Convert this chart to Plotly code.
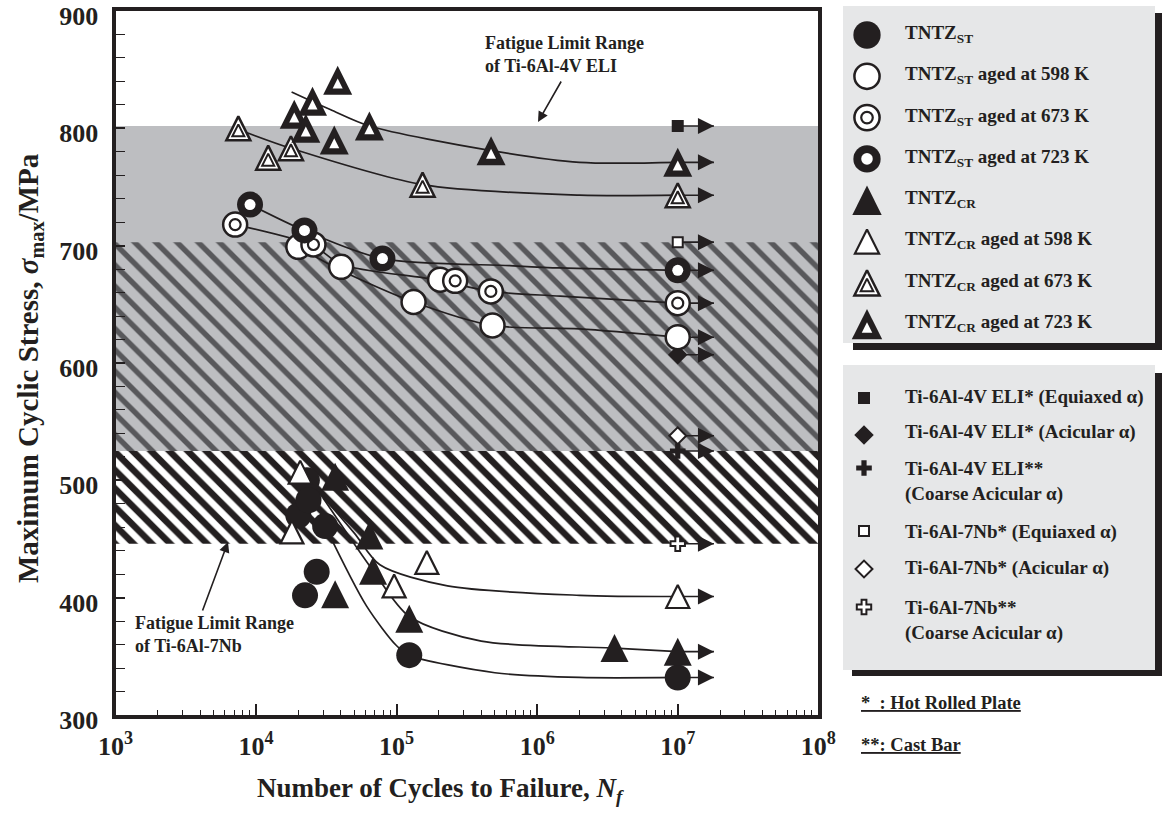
import plotly.graph_objects as go

W, H = 1162, 816
FONT = "Liberation Serif, 'Times New Roman', Times, serif"
INK = "#231f20"
BAND_GRAY = "#bdbec1"
HATCH_DARK = "#58585b"
BOX_FILL = "#e6e7e8"

# plot frame in pixels (10^3 .. 10^8, 900 .. 300 MPa)
PX_L, PX_R = 115.5, 818.3
PX_T, PX_B = 11.0, 715.0

# ---------------- tick labels ----------------
x_tick_vals = [1e3, 1e4, 1e5, 1e6, 1e7, 1e8]
x_tick_text = ["10<sup>3</sup>", "10<sup>4</sup>", "10<sup>5</sup>",
               "10<sup>6</sup>", "10<sup>7</sup>", "10<sup>8</sup>"]
y_tick_vals = [300, 400, 500, 600, 700, 800, 900]
y_tick_text = ["300", "400", "500", "600", "700", "800", "900"]

# ---------------- data: cycles to failure / max cyclic stress (MPa) ----------------
st_n = [2.0e4, 2.3e4, 2.36e4, 3.1e4, 2.7e4, 2.23e4, 1.23e5, 1.0e7]
st_s = [470, 500, 483, 461, 422, 402, 351, 332]
st598_n = [2.0e4, 4.03e4, 2.04e5, 1.32e5, 4.81e5, 1.0e7]
st598_s = [699, 682, 671, 652, 632, 622]
st673_n = [7.1e3, 2.56e4, 2.61e5, 4.68e5, 1.0e7]
st673_s = [718, 701, 670, 661, 651]
st723_n = [9.06e3, 2.21e4, 7.93e4, 1.0e7]
st723_s = [735, 713, 689, 679]
cr_n = [3.65e4, 3.65e4, 6.4e4, 6.8e4, 1.23e5, 3.55e6, 1.0e7]
cr_s = [503, 403, 453, 423, 382, 357, 354]
cr598_n = [2.06e4, 1.8e4, 1.64e5, 9.6e4, 1.0e7]
cr598_s = [507, 456, 430, 410, 401]
cr673_n = [7.48e3, 1.22e4, 1.77e4, 1.53e5, 1.0e7]
cr673_s = [800, 775, 783, 752, 743]
cr723_n = [1.87e4, 2.26e4, 2.52e4, 3.6e4, 3.81e4, 6.4e4, 4.7e5, 1.0e7]
cr723_s = [812, 800, 823, 790, 841, 802, 781, 771]

# reference alloys (fatigue limits at 10^7 cycles)
ref_n = 1.0e7
ti64_s = [802, 607, 525]   # equiaxed, acicular, coarse acicular
ti67_s = [703, 538, 446]   # equiaxed, acicular, coarse acicular

# hand-drawn trend curves
st_fit_n = [3.1e4, 6.1e4, 1.0e5, 1.23e5, 5.0e5, 2.0e6, 1.0e7]
st_fit_s = [461, 393, 359, 351, 336, 332, 332]
st598_fit_n = [2.0e4, 4.0e4, 1.32e5, 4.8e5, 2.0e6, 1.0e7]
st598_fit_s = [699, 679, 652, 632, 629, 622]
st673_fit_n = [7.1e3, 2.56e4, 4.03e4, 1.9e5, 4.68e5, 1.46e6, 1.0e7]
st673_fit_s = [718, 700, 684, 671, 661, 657, 651]
st723_fit_n = [9.1e3, 2.2e4, 7.9e4, 6.4e5, 1.46e6, 1.0e7]
st723_fit_s = [735, 713, 689, 683, 681, 679]
cr_fit_n = [3.0e4, 6.8e4, 1.23e5, 4.0e5, 3.55e6, 1.0e7]
cr_fit_s = [485, 423, 384, 363, 357, 354]
cr598_fit_n = [2.8e4, 5.0e4, 7.6e4, 2.3e5, 2.0e6, 1.0e7]
cr598_fit_s = [490, 455, 428, 410, 402, 401]
cr673_fit_n = [7.5e3, 1.77e4, 1.53e5, 2.0e6, 1.0e7]
cr673_fit_s = [799, 783, 752, 743, 743]
cr723_fit_n = [1.79e4, 3.37e4, 6.4e4, 4.7e5, 2.0e6, 1.0e7]
cr723_fit_s = [831, 816, 802, 781, 771, 771]

# legend labels
tntz_labels = ["TNTZ<sub>ST</sub>", "TNTZ<sub>ST</sub> aged at 598 K",
               "TNTZ<sub>ST</sub> aged at 673 K", "TNTZ<sub>ST</sub> aged at 723 K",
               "TNTZ<sub>CR</sub>", "TNTZ<sub>CR</sub> aged at 598 K",
               "TNTZ<sub>CR</sub> aged at 673 K", "TNTZ<sub>CR</sub> aged at 723 K"]
ref_labels = ["Ti-6Al-4V ELI* (Equiaxed α)", "Ti-6Al-4V ELI* (Acicular α)",
              "Ti-6Al-4V ELI**<br>(Coarse Acicular α)", "Ti-6Al-7Nb* (Equiaxed α)",
              "Ti-6Al-7Nb* (Acicular α)", "Ti-6Al-7Nb**<br>(Coarse Acicular α)"]
note_labels = ["*  : Hot Rolled Plate", "**: Cast Bar"]

# ---------------- marker styles (layers: symbol, size, fill, outline width) ----------------
STYLES = {
    "st":    [("circle", 26, INK, 0)],
    "st598": [("circle", 24, "white", 2.5)],
    "st673": [("circle", 24, "white", 2.5), ("circle", 11, "white", 2.2)],
    "st723": [("circle", 26, INK, 0), ("circle", 11, "white", 0)],
    "cr":    [("tri", 28, INK, 0)],
    "cr598": [("tri", 23, "white", 2.2)],
    "cr673": [("tri", 24, "white", 2.5), ("tri", 12, "white", 2.0)],
    "cr723": [("tri", 29, INK, 0), ("tri", 10, "white", 0)],
    "ti64_eq": [("square", 12, INK, 0)],
    "ti64_ac": [("diamond", 15, INK, 0)],
    "ti64_co": [("cross", 13, INK, 0)],
    "ti67_eq": [("square", 10, "white", 2)],
    "ti67_ac": [("diamond", 13, "white", 2)],
    "ti67_co": [("cross", 12, "white", 2)],
}


def marker_layers(key, scale=1.0):
    layers = STYLES[key]
    R = layers[0][1] * scale / 2
    out = []
    for i, (sym, size, fill, lw) in enumerate(layers):
        size = size * scale
        m = dict(size=size, color=fill, line=dict(color=INK, width=lw))
        if sym == "tri":
            r = size / 2
            m["symbol"] = "arrow-down"
            m["angle"] = 180
            m["standoff"] = r if i == 0 else max(0.0, 4 * r / 3 - R / 3)
        else:
            m["symbol"] = sym
        out.append(m)
    return out


fig = go.Figure()


def band(lo, hi, **kw):
    fig.add_trace(go.Scatter(
        x=[1e3, 1e8, 1e8, 1e3, 1e3], y=[lo, lo, hi, hi, lo],
        mode="lines", fill="toself", line=dict(width=0), hoverinfo="skip",
        showlegend=False, **kw))


# ---------------- fatigue limit ranges ----------------
lo64, hi64 = min(ti64_s), max(ti64_s)
lo67, hi67 = min(ti67_s), max(ti67_s)
band(lo64, hi64, fillcolor=BAND_GRAY)
band(max(lo64, lo67), min(hi64, hi67), fillcolor=BAND_GRAY,
     fillpattern=dict(shape="\\", bgcolor=BAND_GRAY, fgcolor=HATCH_DARK, fgopacity=1,
                      size=15, solidity=0.36))
band(lo67, lo64, fillcolor="white",
     fillpattern=dict(shape="\\", bgcolor="white", fgcolor=INK, fgopacity=1,
                      size=13, solidity=0.5))

# ---------------- trend curves ----------------
for fn, fs in [(st_fit_n, st_fit_s), (st598_fit_n, st598_fit_s), (st673_fit_n, st673_fit_s),
               (st723_fit_n, st723_fit_s), (cr_fit_n, cr_fit_s), (cr598_fit_n, cr598_fit_s),
               (cr673_fit_n, cr673_fit_s), (cr723_fit_n, cr723_fit_s)]:
    fig.add_trace(go.Scatter(x=fn, y=fs, mode="lines", hoverinfo="skip", showlegend=False,
                             line=dict(color=INK, width=1.7, shape="spline", smoothing=0.8)))

# ---------------- run-out arrows ----------------
series = [("st", st_n, st_s), ("st598", st598_n, st598_s), ("st673", st673_n, st673_s),
          ("st723", st723_n, st723_s), ("cr", cr_n, cr_s), ("cr598", cr598_n, cr598_s),
          ("cr673", cr673_n, cr673_s), ("cr723", cr723_n, cr723_s)]
ref_keys64 = ["ti64_eq", "ti64_ac", "ti64_co"]
ref_keys67 = ["ti67_eq", "ti67_ac", "ti67_co"]

run_n, run_s = [], []
for _, ns, ss in series:
    for n, s in zip(ns, ss):
        if n >= 1e7:
            run_n.append(n)
            run_s.append(s)
for s in ti64_s + ti67_s:
    run_n.append(ref_n)
    run_s.append(s)

ARROW_F = 1.81
lx, ly = [], []
for n, s in zip(run_n, run_s):
    lx += [n, n * ARROW_F, None]
    ly += [s, s, None]
fig.add_trace(go.Scatter(x=lx, y=ly, mode="lines", line=dict(color=INK, width=1.6),
                         hoverinfo="skip", showlegend=False))
fig.add_trace(go.Scatter(x=[n * ARROW_F for n in run_n], y=run_s, mode="markers",
                         marker=dict(symbol="arrow-right", size=16, color=INK, line=dict(width=0)),
                         hoverinfo="skip", showlegend=False, cliponaxis=False))

# ---------------- data markers ----------------
def draw(key, xs, ys, xa="x", ya="y", scale=1.0):
    for m in marker_layers(key, scale):
        fig.add_trace(go.Scatter(x=xs, y=ys, mode="markers", marker=m, xaxis=xa, yaxis=ya,
                                 hoverinfo="skip", showlegend=False, cliponaxis=False))


for k, s in zip(ref_keys64, ti64_s):
    draw(k, [ref_n], [s])
for k, s in zip(ref_keys67, ti67_s):
    draw(k, [ref_n], [s])
for key, ns, ss in series:
    draw(key, ns, ss)

# ---------------- legend (pixel overlay axes) ----------------
def pxx(x):
    return x / W


def pxy(y):
    return 1 - y / H


shapes = []
for (sx0, sy0, sx1, sy1), (bx0, by0, bx1, by1) in [((853, 13, 1162, 350), (843, 6, 1155, 343)),
                                                      ((852, 373, 1162, 676), (843, 365, 1155, 670))]:
    shapes.append(dict(type="rect", xref="paper", yref="paper", x0=pxx(sx0), x1=pxx(sx1),
                       y0=pxy(sy1), y1=pxy(sy0), fillcolor=INK, line=dict(width=0), layer="below"))
    shapes.append(dict(type="rect", xref="paper", yref="paper", x0=pxx(bx0), x1=pxx(bx1),
                       y0=pxy(by1), y1=pxy(by0), fillcolor=BOX_FILL, line=dict(width=0), layer="below"))

annotations = []
LEG_MX, LEG_TX = 867, 903
keys1 = ["st", "st598", "st673", "st723", "cr", "cr598", "cr673", "cr723"]
for i, (k, lab) in enumerate(zip(keys1, tntz_labels)):
    y = 35 + 41.3 * i
    draw(k, [LEG_MX], [y], xa="x2", ya="y2", scale=1.05)
    annotations.append(dict(x=pxx(LEG_TX), y=pxy(y - 1), xref="paper", yref="paper",
                            text="<b>" + lab + "</b>", showarrow=False, xanchor="left",
                            yanchor="middle", align="left", font=dict(size=19)))

keys2 = ref_keys64 + ref_keys67
mark_y2 = [398, 435, 468, 531, 569, 607]
text_y2 = [397, 432, 481, 532, 568, 620]
for k, lab, my, ty in zip(keys2, ref_labels, mark_y2, text_y2):
    draw(k, [LEG_MX - 3], [my], xa="x2", ya="y2")
    annotations.append(dict(x=pxx(LEG_TX), y=pxy(ty), xref="paper", yref="paper",
                            text="<b>" + lab + "</b>", showarrow=False, xanchor="left",
                            yanchor="middle", align="left", font=dict(size=19)))

for lab, y in zip(note_labels, [703, 745]):
    annotations.append(dict(x=pxx(859), y=pxy(y), xref="paper", yref="paper",
                            text="<b><span style='text-decoration:underline'>" + lab + "</span></b>",
                            showarrow=False, xanchor="left", yanchor="middle", font=dict(size=18.5)))

# fatigue limit range notes with arrows
annotations.append(dict(x=pxx(483), y=pxy(55), xref="paper", yref="paper",
                        text="<b>Fatigue Limit Range<br>of Ti-6Al-4V ELI</b>", showarrow=False,
                        xanchor="left", yanchor="middle", align="left", font=dict(size=18)))
annotations.append(dict(x=pxx(538), y=pxy(122), xref="paper", yref="paper", text="",
                        showarrow=True, ax=24, ay=-42, arrowhead=2, arrowsize=1.3,
                        arrowwidth=1.6, arrowcolor=INK))
annotations.append(dict(x=pxx(133), y=pxy(634), xref="paper", yref="paper",
                        text="<b>Fatigue Limit Range<br>of Ti-6Al-7Nb</b>", showarrow=False,
                        xanchor="left", yanchor="middle", align="left", font=dict(size=18)))
annotations.append(dict(x=pxx(228), y=pxy(542), xref="paper", yref="paper", text="",
                        showarrow=True, ax=-26, ay=70, arrowhead=2, arrowsize=1.3,
                        arrowwidth=1.6, arrowcolor=INK))

# axis titles
annotations.append(dict(x=pxx(440), y=pxy(790), xref="paper", yref="paper",
                        text="<b>Number of Cycles to Failure, <i>N<sub>f</sub></i></b>",
                        showarrow=False, xanchor="center", yanchor="middle", font=dict(size=27)))
annotations.append(dict(x=pxx(30), y=pxy(368), xref="paper", yref="paper", textangle=-90,
                        text="<b>Maximum Cyclic Stress, <i>σ</i><sub>max</sub>/MPa</b>",
                        showarrow=False, xanchor="center", yanchor="middle", font=dict(size=29)))

fig.update_layout(
    width=W, height=H,
    margin=dict(l=0, r=0, t=0, b=0, autoexpand=False),
    paper_bgcolor="white", plot_bgcolor="rgba(0,0,0,0)",
    font=dict(family=FONT, color=INK),
    showlegend=False, hovermode=False,
    shapes=shapes, annotations=annotations,
    xaxis=dict(type="log", range=[3, 8], domain=[PX_L / W, PX_R / W], anchor="y",
               tickmode="array", tickvals=x_tick_vals, ticktext=x_tick_text,
               ticks="inside", ticklen=11, tickwidth=1.6, tickcolor=INK,
               minor=dict(ticks="inside", dtick="D1", ticklen=5, tickwidth=1.4, tickcolor=INK),
               tickfont=dict(size=26, family=FONT, color=INK, weight="bold"),
               ticklabelstandoff=5, ticklabeloverflow="allow",
               showline=True, linewidth=4, linecolor=INK, mirror=True,
               showgrid=False, zeroline=False),
    yaxis=dict(range=[300, 900], domain=[1 - PX_B / H, 1 - PX_T / H], anchor="x",
               tickmode="array", tickvals=y_tick_vals, ticktext=y_tick_text,
               ticks="inside", ticklen=9, tickwidth=1.6, tickcolor=INK,
               minor=dict(ticks="inside", dtick=20, tick0=300, ticklen=9, tickwidth=1.4, tickcolor=INK),
               tickfont=dict(size=26, family=FONT, color=INK, weight="bold"),
               ticklabelstandoff=8, ticklabelshift=5, ticklabeloverflow="allow",
               showline=True, linewidth=4, linecolor=INK, mirror=True,
               showgrid=False, zeroline=False),
    xaxis2=dict(domain=[0, 1], range=[0, W], visible=False, anchor="y2", fixedrange=True),
    yaxis2=dict(domain=[0, 1], range=[H, 0], visible=False, anchor="x2", fixedrange=True),
)

fig.write_html("out.html")
